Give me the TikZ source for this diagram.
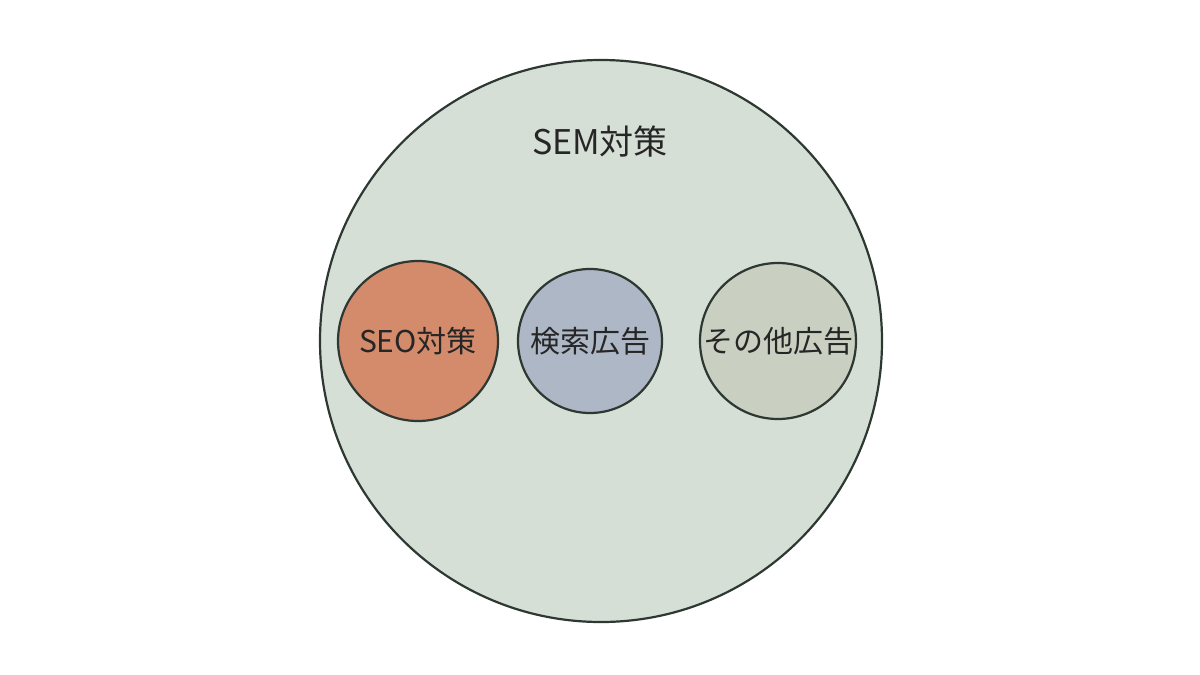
\documentclass[tikz,border=0pt]{standalone}
\usepackage{fontspec}
\newfontfamily\cjk{Noto Sans CJK JP}
\definecolor{bigfill}{HTML}{D6DFD5}
\definecolor{seo}{HTML}{D38B6B}
\definecolor{ads}{HTML}{AEB7C6}
\definecolor{other}{HTML}{C9D0C1}
\definecolor{edge}{HTML}{2E3833}
\begin{document}
\begin{tikzpicture}[x=0.5pt,y=-0.5pt,
  circ/.style={circle,draw=edge,line width=1.1pt,inner sep=0pt,font=\cjk\fontsize{15}{17}\selectfont,text=black!85}]
\useasboundingbox (0,0) rectangle (1200,675);
\node[circ,fill=bigfill,minimum size=281pt] (sem) at (601,341) {};
\node[font=\cjk\fontsize{17}{19}\selectfont,text=black!85] (semlabel) at (600,142) {SEM対策};
\node[circ,fill=seo,minimum size=80pt] (seo) at (418,341) {SEO対策};
\node[circ,fill=ads,minimum size=72pt] (ad) at (590,341) {検索広告};
\node[circ,fill=other,minimum size=78pt] (oth) at (778,341) {その他広告};
\end{tikzpicture}
\end{document}
